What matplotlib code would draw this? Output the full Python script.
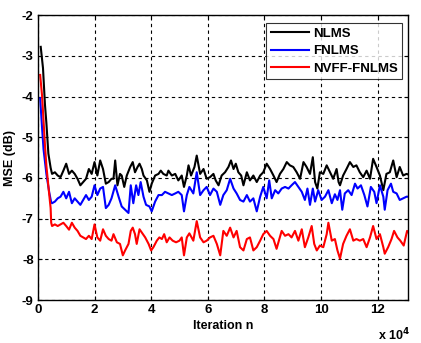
import matplotlib
matplotlib.use("Agg")
import matplotlib.pyplot as plt

# iteration values in units of 1e4
nlms_x = [0.10, 0.18, 0.25, 0.30, 0.37, 0.45, 0.5, 0.6, 0.7, 0.8, 0.9, 1.0, 1.1, 1.2, 1.3, 1.4, 1.5, 1.6, 1.7, 1.8, 1.9, 2.0, 2.1, 2.2, 2.3, 2.4, 2.5, 2.6, 2.67, 2.73, 2.81, 2.9, 2.96, 3.05, 3.14, 3.26, 3.35, 3.43, 3.52, 3.59, 3.67, 3.73, 3.85, 3.94, 4.02, 4.14, 4.26, 4.34, 4.43, 4.55, 4.61, 4.73, 4.85, 4.96, 5.08, 5.16, 5.26, 5.32, 5.41, 5.53, 5.61, 5.73, 5.85, 5.96, 6.08, 6.2, 6.28, 6.38, 6.49, 6.61, 6.73, 6.82, 6.91, 6.99, 7.08, 7.18, 7.26, 7.38, 7.49, 7.61, 7.73, 7.85, 7.96, 8.08, 8.2, 8.32, 8.43, 8.55, 8.67, 8.79, 8.9, 9.02, 9.14, 9.26, 9.38, 9.49, 9.61, 9.71, 9.79, 9.87, 9.96, 10.08, 10.2, 10.32, 10.43, 10.55, 10.62, 10.67, 10.78, 10.9, 11.02, 11.14, 11.25, 11.37, 11.49, 11.61, 11.73, 11.84, 11.96, 12.08, 12.2, 12.31, 12.43, 12.55, 12.67, 12.78, 12.9, 13.02, 13.1]
nlms_y = [-2.78, -3.3, -4.2, -4.65, -5.4, -5.75, -5.90, -5.86, -5.94, -5.98, -5.82, -5.65, -5.90, -5.82, -5.90, -6.02, -6.18, -6.10, -6.02, -5.78, -5.90, -5.61, -5.94, -5.57, -5.78, -6.14, -6.10, -6.02, -6.02, -5.57, -6.18, -5.90, -5.94, -6.22, -5.94, -5.73, -5.61, -5.86, -5.73, -5.65, -5.78, -5.94, -6.06, -6.34, -6.14, -5.94, -5.90, -5.82, -5.90, -5.94, -5.82, -5.94, -5.90, -6.06, -5.94, -6.22, -5.94, -5.69, -5.94, -5.73, -5.45, -5.90, -5.78, -6.02, -5.98, -5.90, -6.06, -6.18, -5.94, -5.86, -5.73, -5.57, -5.78, -5.65, -5.86, -5.94, -6.18, -5.86, -6.06, -5.94, -6.10, -5.94, -5.86, -5.65, -5.78, -5.94, -6.10, -5.90, -5.78, -5.61, -5.69, -5.73, -5.86, -6.02, -5.61, -5.73, -5.90, -5.49, -6.10, -6.26, -5.86, -5.90, -5.69, -5.86, -6.02, -5.78, -6.10, -6.18, -5.94, -5.78, -5.61, -5.73, -5.69, -5.86, -5.98, -5.82, -6.02, -5.53, -5.73, -5.94, -6.30, -5.90, -5.86, -5.57, -5.98, -5.73, -5.94, -5.90, -5.92]

fnlms_x = [0.08, 0.15, 0.20, 0.30, 0.40, 0.47, 0.5, 0.6, 0.7, 0.8, 0.9, 1.0, 1.1, 1.2, 1.3, 1.4, 1.5, 1.6, 1.7, 1.8, 1.9, 2.0, 2.1, 2.2, 2.3, 2.4, 2.5, 2.6, 2.73, 2.85, 2.96, 3.08, 3.2, 3.28, 3.37, 3.47, 3.55, 3.63, 3.73, 3.82, 3.94, 4.02, 4.14, 4.26, 4.38, 4.49, 4.61, 4.73, 4.85, 4.96, 5.08, 5.16, 5.26, 5.35, 5.49, 5.61, 5.73, 5.85, 5.96, 6.08, 6.2, 6.32, 6.44, 6.55, 6.67, 6.79, 6.91, 7.02, 7.14, 7.26, 7.38, 7.49, 7.61, 7.73, 7.85, 7.96, 8.08, 8.17, 8.26, 8.38, 8.49, 8.61, 8.73, 8.85, 8.96, 9.08, 9.2, 9.32, 9.43, 9.52, 9.61, 9.71, 9.79, 9.9, 10.02, 10.14, 10.26, 10.38, 10.49, 10.58, 10.67, 10.75, 10.84, 10.96, 11.08, 11.2, 11.29, 11.41, 11.53, 11.64, 11.76, 11.88, 11.96, 12.08, 12.2, 12.25, 12.35, 12.47, 12.55, 12.67, 12.78, 12.9, 13.02, 13.1]
fnlms_y = [-4.04, -4.8, -5.3, -5.9, -6.35, -6.6, -6.62, -6.58, -6.50, -6.46, -6.34, -6.50, -6.34, -6.62, -6.50, -6.58, -6.66, -6.54, -6.42, -6.54, -6.46, -6.18, -6.42, -6.26, -6.22, -6.74, -6.66, -6.50, -6.18, -6.46, -6.70, -6.78, -6.86, -6.18, -6.62, -6.18, -6.42, -6.10, -6.46, -6.66, -6.70, -6.82, -6.58, -6.42, -6.42, -6.34, -6.38, -6.42, -6.38, -6.34, -6.42, -6.82, -6.42, -6.22, -6.38, -5.86, -6.42, -6.30, -6.22, -6.42, -6.26, -6.34, -6.66, -6.42, -6.30, -6.02, -6.26, -6.38, -6.54, -6.58, -6.42, -6.58, -6.50, -6.82, -6.46, -6.22, -6.50, -6.06, -6.50, -6.30, -6.38, -6.26, -6.22, -6.26, -6.18, -6.10, -6.22, -6.34, -6.54, -6.26, -6.66, -6.26, -6.58, -6.30, -6.54, -6.46, -6.30, -6.62, -6.40, -6.54, -6.30, -6.78, -6.38, -6.30, -6.42, -6.14, -6.26, -6.18, -6.42, -6.70, -6.22, -6.34, -6.62, -6.18, -6.46, -6.78, -6.30, -6.14, -6.34, -6.38, -6.54, -6.50, -6.46, -6.46]

nvff_x = [0.08, 0.15, 0.20, 0.25, 0.30, 0.37, 0.45, 0.47, 0.5, 0.6, 0.7, 0.8, 0.9, 1.0, 1.1, 1.2, 1.3, 1.4, 1.5, 1.6, 1.7, 1.8, 1.9, 2.0, 2.1, 2.2, 2.3, 2.4, 2.5, 2.6, 2.67, 2.79, 2.9, 3.0, 3.08, 3.2, 3.28, 3.35, 3.43, 3.49, 3.59, 3.67, 3.79, 3.91, 4.0, 4.08, 4.2, 4.29, 4.38, 4.46, 4.55, 4.65, 4.76, 4.88, 5.0, 5.08, 5.16, 5.26, 5.35, 5.49, 5.61, 5.73, 5.85, 5.96, 6.08, 6.2, 6.32, 6.44, 6.55, 6.67, 6.79, 6.91, 7.02, 7.14, 7.26, 7.38, 7.49, 7.61, 7.73, 7.85, 7.96, 8.08, 8.2, 8.32, 8.43, 8.53, 8.61, 8.73, 8.85, 8.96, 9.08, 9.2, 9.32, 9.43, 9.55, 9.67, 9.76, 9.85, 9.96, 10.08, 10.2, 10.26, 10.38, 10.49, 10.58, 10.67, 10.78, 10.9, 11.02, 11.14, 11.25, 11.37, 11.49, 11.61, 11.73, 11.84, 11.96, 12.08, 12.2, 12.25, 12.37, 12.49, 12.58, 12.7, 12.8, 12.92, 13.04, 13.1]
nvff_y = [-3.47, -4.0, -4.6, -5.2, -5.7, -6.2, -6.74, -7.1, -7.18, -7.14, -7.18, -7.14, -7.10, -7.18, -7.27, -7.10, -7.22, -7.30, -7.42, -7.46, -7.50, -7.42, -7.50, -7.14, -7.46, -7.54, -7.26, -7.42, -7.50, -7.54, -7.38, -7.58, -7.62, -7.90, -7.78, -7.62, -7.30, -7.22, -7.38, -7.62, -7.26, -7.34, -7.46, -7.62, -7.78, -7.70, -7.54, -7.46, -7.50, -7.38, -7.58, -7.46, -7.54, -7.58, -7.54, -7.46, -7.90, -7.46, -7.36, -7.54, -7.06, -7.46, -7.58, -7.54, -7.46, -7.42, -7.62, -7.90, -7.30, -7.42, -7.22, -7.46, -7.30, -7.70, -7.78, -7.50, -7.46, -7.78, -7.70, -7.54, -7.38, -7.30, -7.42, -7.50, -7.74, -7.50, -7.30, -7.42, -7.38, -7.46, -7.30, -7.54, -7.26, -7.70, -7.46, -7.18, -7.62, -7.78, -7.66, -7.70, -7.38, -7.10, -7.54, -7.50, -7.78, -7.98, -7.62, -7.42, -7.26, -7.54, -7.50, -7.54, -7.50, -7.70, -7.46, -7.18, -7.50, -7.38, -7.70, -7.86, -7.70, -7.50, -7.30, -7.46, -7.54, -7.66, -7.30, -7.35]

series_labels = ["NLMS", "FNLMS", "NVFF-FNLMS"]
x_ticks = [0, 2, 4, 6, 8, 10, 12]
y_ticks = [-9, -8, -7, -6, -5, -4, -3, -2]

plt.rcParams['font.family'] = ['Liberation Sans', 'DejaVu Sans']
plt.rcParams['font.weight'] = 'bold'

fig = plt.figure(figsize=(4.21, 3.43), dpi=100)
ax = fig.add_axes([0.090, 0.125, 0.879, 0.831])

ax.plot(nlms_x, nlms_y, color='black', lw=1.5, label=series_labels[0])
ax.plot(fnlms_x, fnlms_y, color='#0000ff', lw=1.5, label=series_labels[1])
ax.plot(nvff_x, nvff_y, color='#ff0000', lw=1.5, label=series_labels[2])

ax.set_xlim(0, 13.07)
ax.set_ylim(-9, -2)
ax.set_xticks(x_ticks)
ax.set_yticks(y_ticks)
ax.set_xticklabels([str(t) for t in x_ticks], fontsize=9.5, fontweight='bold')
ax.set_yticklabels([str(t) for t in y_ticks], fontsize=9.5, fontweight='bold')
ax.tick_params(direction='in', top=True, right=True, length=3, width=0.8, pad=3)
ax.grid(True, color='black', linestyle=(0, (3, 3)), linewidth=0.8)
for s in ax.spines.values():
    s.set_linewidth(1.0)

ax.set_xlabel('Iteration n', fontsize=9, fontweight='bold', labelpad=3)
ax.set_ylabel('MSE (dB)', fontsize=9, fontweight='bold', labelpad=4)
ax.text(1.005, -0.14, r'x 10$^{\mathbf{4}}$', transform=ax.transAxes, ha='right', va='baseline',
        fontsize=9, fontweight='bold')

leg = ax.legend(loc='upper right', bbox_to_anchor=(0.992, 0.982), fontsize=9.5,
                frameon=True, fancybox=False, edgecolor='black', handlelength=2.9,
                handletextpad=0.3, borderpad=0.35, labelspacing=0.4, borderaxespad=0.2)
leg.get_frame().set_linewidth(0.8)
for t in leg.get_texts():
    t.set_fontweight('bold')

fig.savefig('out.png', dpi=100)
